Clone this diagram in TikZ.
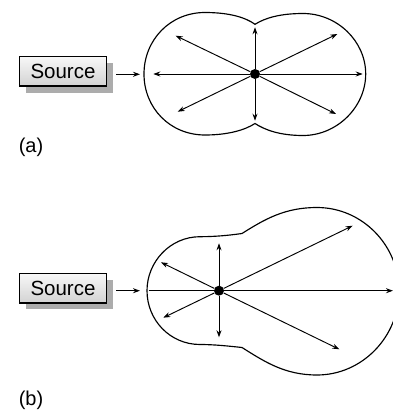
\documentclass[tikz,border=0pt]{standalone}
\usepackage{fontspec}
\setmainfont{Liberation Sans}
\usetikzlibrary{arrows.meta,shadows}
\tikzset{
  srcbox/.style={draw=black, line width=1.1pt, top color=gray!6, bottom color=gray!35,
    minimum width=87.4pt, minimum height=29.3pt, inner sep=0pt, font=\fontsize{20.5}{24}\selectfont,
    general shadow={fill=gray!65, shadow xshift=6.5pt, shadow yshift=-6.5pt}},
  ray/.style={line width=0.95pt, -{Stealth[length=7pt,width=5pt]}},
  feed/.style={line width=0.95pt, -{Stealth[length=7pt,width=5pt]}},
  blob/.style={line width=1.15pt},
  centre/.style={circle, fill=black, inner sep=0pt, minimum size=10pt},
  tag/.style={font=\fontsize{20}{24}\selectfont, inner sep=0pt}
}
\begin{document}
\begin{tikzpicture}[x=1pt,y=-1pt]
\useasboundingbox (0,0) rectangle (393,412);

% ---------- (a) ----------
\draw[blob] (255,24.3)
  .. controls (245,17) and (228,12.5) .. (205,12.5)
  .. controls (170,12.5) and (144,40) .. (144,74)
  .. controls (144,108) and (170,135) .. (205,135)
  .. controls (228,135) and (245,130) .. (255,123.5)
  .. controls (265,130) and (280,135.5) .. (303,135.5)
  .. controls (337,135.5) and (365.7,107) .. (365.7,74)
  .. controls (365.7,41) and (337,13.5) .. (303,13.5)
  .. controls (280,13.5) and (265,18) .. cycle;

\node[srcbox] (srcA) at (63,71.35) {Source};
\coordinate (inA) at (140,74.3);
\draw[feed] (116,74.3) -- (inA);

\node[centre] (cA) at (255,74) {};
\coordinate (aL) at (153.3,74);
\coordinate (aR) at (362.7,74);
\coordinate (aU) at (255,27.3);
\coordinate (aD) at (255,120.7);
\coordinate (aUL) at (175.7,35.7);
\coordinate (aUR) at (337.3,34);
\coordinate (aDL) at (177.7,111.7);
\coordinate (aDR) at (336,114);
\foreach \e in {aL,aR,aU,aD,aUL,aUR,aDL,aDR}
  \draw[ray] (cA) -- (\e);

\node[tag] (labA) at (31,147) {(a)};

% ---------- (b) ----------
\draw[blob] (242,233.5)
  .. controls (228,235.5) and (214,236.7) .. (200,236.7)
  .. controls (170,236.7) and (147,262) .. (147,290.7)
  .. controls (147,320) and (170,344.5) .. (200,344.5)
  .. controls (214,344.5) and (228,346) .. (242,347.5)
  .. controls (265,362) and (285,375) .. (317,375)
  .. controls (362,375) and (399,337) .. (399,291)
  .. controls (399,245) and (362,207.5) .. (317,207.5)
  .. controls (285,207.5) and (265,219) .. cycle;

\node[srcbox] (srcB) at (63,288.3) {Source};
\coordinate (inB) at (140,290.7);
\draw[feed] (116,290.7) -- (inB);

\node[centre] (cB) at (219,290.7) {};
\coordinate (bL) at (148.5,290.7);
\coordinate (bR) at (393,290.7);
\draw[ray] (bL) -- (bR);
\coordinate (bU) at (219,243.3);
\coordinate (bD) at (219,337.3);
\coordinate (bUL) at (161,262.3);
\coordinate (bDL) at (163.3,317.7);
\coordinate (bUR) at (352.7,225.7);
\coordinate (bDR) at (339.3,349.3);
\foreach \e in {bU,bD,bUL,bDL,bUR,bDR}
  \draw[ray] (cB) -- (\e);

\node[tag] (labB) at (31,400) {(b)};
\end{tikzpicture}
\end{document}
